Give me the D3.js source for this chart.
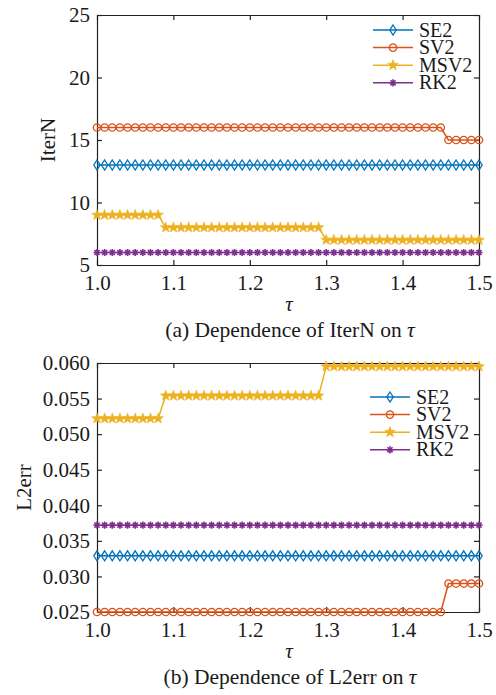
<!DOCTYPE html>
<html lang="en">
<head>
<meta charset="utf-8">
<title>IterN and L2err vs tau</title>
<script src="https://d3js.org/d3.v7.min.js"></script>
<style>
    body { margin: 0; background: #fff; }
    svg { display: block; }
    text { font-family: 'Liberation Serif', 'Times New Roman', serif; fill: #1a1a1a; }
    .axis path, .axis line { stroke: #222; stroke-width: 1.2px; }
</style>
</head>
<body>
<svg id="chart" width="496" height="695"></svg>
<script>
// tau values (x axis, step 0.01)
const tau = [
    1.00, 1.01, 1.02, 1.03, 1.04, 1.05, 1.06, 1.07, 1.08, 1.09,
    1.10, 1.11, 1.12, 1.13, 1.14, 1.15, 1.16, 1.17, 1.18, 1.19,
    1.20, 1.21, 1.22, 1.23, 1.24, 1.25, 1.26, 1.27, 1.28, 1.29,
    1.30, 1.31, 1.32, 1.33, 1.34, 1.35, 1.36, 1.37, 1.38, 1.39,
    1.40, 1.41, 1.42, 1.43, 1.44, 1.45, 1.46, 1.47, 1.48, 1.49,
    1.50
];

const methods = ['SE2', 'SV2', 'MSV2', 'RK2'];

// (a) iteration counts
const iterSE2 = [
    13, 13, 13, 13, 13, 13, 13, 13, 13, 13,
    13, 13, 13, 13, 13, 13, 13, 13, 13, 13,
    13, 13, 13, 13, 13, 13, 13, 13, 13, 13,
    13, 13, 13, 13, 13, 13, 13, 13, 13, 13,
    13, 13, 13, 13, 13, 13, 13, 13, 13, 13,
    13
];
const iterSV2 = [
    16, 16, 16, 16, 16, 16, 16, 16, 16, 16,
    16, 16, 16, 16, 16, 16, 16, 16, 16, 16,
    16, 16, 16, 16, 16, 16, 16, 16, 16, 16,
    16, 16, 16, 16, 16, 16, 16, 16, 16, 16,
    16, 16, 16, 16, 16, 16, 15, 15, 15, 15,
    15
];
const iterMSV2 = [
    9, 9, 9, 9, 9, 9, 9, 9, 9, 8,
    8, 8, 8, 8, 8, 8, 8, 8, 8, 8,
    8, 8, 8, 8, 8, 8, 8, 8, 8, 8,
    7, 7, 7, 7, 7, 7, 7, 7, 7, 7,
    7, 7, 7, 7, 7, 7, 7, 7, 7, 7,
    7
];
const iterRK2 = [
    6, 6, 6, 6, 6, 6, 6, 6, 6, 6,
    6, 6, 6, 6, 6, 6, 6, 6, 6, 6,
    6, 6, 6, 6, 6, 6, 6, 6, 6, 6,
    6, 6, 6, 6, 6, 6, 6, 6, 6, 6,
    6, 6, 6, 6, 6, 6, 6, 6, 6, 6,
    6
];

// (b) L2 errors
const errSE2 = [
    0.0329, 0.0329, 0.0329, 0.0329, 0.0329, 0.0329, 0.0329, 0.0329, 0.0329, 0.0329,
    0.0329, 0.0329, 0.0329, 0.0329, 0.0329, 0.0329, 0.0329, 0.0329, 0.0329, 0.0329,
    0.0329, 0.0329, 0.0329, 0.0329, 0.0329, 0.0329, 0.0329, 0.0329, 0.0329, 0.0329,
    0.0329, 0.0329, 0.0329, 0.0329, 0.0329, 0.0329, 0.0329, 0.0329, 0.0329, 0.0329,
    0.0329, 0.0329, 0.0329, 0.0329, 0.0329, 0.0329, 0.0329, 0.0329, 0.0329, 0.0329,
    0.0329
];
const errSV2 = [
    0.0250, 0.0250, 0.0250, 0.0250, 0.0250, 0.0250, 0.0250, 0.0250, 0.0250, 0.0250,
    0.0250, 0.0250, 0.0250, 0.0250, 0.0250, 0.0250, 0.0250, 0.0250, 0.0250, 0.0250,
    0.0250, 0.0250, 0.0250, 0.0250, 0.0250, 0.0250, 0.0250, 0.0250, 0.0250, 0.0250,
    0.0250, 0.0250, 0.0250, 0.0250, 0.0250, 0.0250, 0.0250, 0.0250, 0.0250, 0.0250,
    0.0250, 0.0250, 0.0250, 0.0250, 0.0250, 0.0250, 0.0290, 0.0290, 0.0290, 0.0290,
    0.0290
];
const errMSV2 = [
    0.0522, 0.0522, 0.0522, 0.0522, 0.0522, 0.0522, 0.0522, 0.0522, 0.0522, 0.0554,
    0.0554, 0.0554, 0.0554, 0.0554, 0.0554, 0.0554, 0.0554, 0.0554, 0.0554, 0.0554,
    0.0554, 0.0554, 0.0554, 0.0554, 0.0554, 0.0554, 0.0554, 0.0554, 0.0554, 0.0554,
    0.0595, 0.0595, 0.0595, 0.0595, 0.0595, 0.0595, 0.0595, 0.0595, 0.0595, 0.0595,
    0.0595, 0.0595, 0.0595, 0.0595, 0.0595, 0.0595, 0.0595, 0.0595, 0.0595, 0.0595,
    0.0595
];
const errRK2 = [
    0.0372, 0.0372, 0.0372, 0.0372, 0.0372, 0.0372, 0.0372, 0.0372, 0.0372, 0.0372,
    0.0372, 0.0372, 0.0372, 0.0372, 0.0372, 0.0372, 0.0372, 0.0372, 0.0372, 0.0372,
    0.0372, 0.0372, 0.0372, 0.0372, 0.0372, 0.0372, 0.0372, 0.0372, 0.0372, 0.0372,
    0.0372, 0.0372, 0.0372, 0.0372, 0.0372, 0.0372, 0.0372, 0.0372, 0.0372, 0.0372,
    0.0372, 0.0372, 0.0372, 0.0372, 0.0372, 0.0372, 0.0372, 0.0372, 0.0372, 0.0372,
    0.0372
];

const xTicks = [1.0, 1.1, 1.2, 1.3, 1.4, 1.5];
const iterTicks = [5, 10, 15, 20, 25];
const errTicks = [0.025, 0.030, 0.035, 0.040, 0.045, 0.050, 0.055, 0.060];

// MATLAB default line colors
const colors = { SE2: '#0072bd', SV2: '#d95319', MSV2: '#edb120', RK2: '#7e2f8e' };

const FONT = "'Liberation Serif', 'Times New Roman', serif";
const svg = d3.select('#chart');

// marker paths
function diamondPath() { return 'M0,-5L3.2,0L0,5L-3.2,0Z'; }
function starPath(R, r) {
    let p = '';
    for (let i = 0; i < 10; i++) {
        const rad = i % 2 ? r : R;
        const a = -Math.PI / 2 + i * Math.PI / 5;
        p += (i ? 'L' : 'M') + (rad * Math.cos(a)).toFixed(2) + ',' + (rad * Math.sin(a)).toFixed(2);
    }
    return p + 'Z';
}
function asteriskPath(r) {
    const d = r * Math.SQRT1_2;
    return `M${-r},0L${r},0M0,${-r}L0,${r}M${-d},${-d}L${d},${d}M${-d},${d}L${d},${-d}`;
}

function addMarker(g, name) {
    const c = colors[name];
    if (name === 'SE2') {
        g.append('path').attr('d', diamondPath()).attr('fill', 'none').attr('stroke', c).attr('stroke-width', 1.3);
    } else if (name === 'SV2') {
        g.append('circle').attr('r', 3.7).attr('fill', 'none').attr('stroke', c).attr('stroke-width', 1.3);
    } else if (name === 'MSV2') {
        g.append('path').attr('d', starPath(5.6, 2.3)).attr('fill', c).attr('stroke', c).attr('stroke-width', 0.6);
    } else {
        g.append('path').attr('d', asteriskPath(3.6)).attr('fill', 'none').attr('stroke', c).attr('stroke-width', 1.6);
    }
}

function styleAxis(sel) {
    sel.attr('font-family', FONT).attr('font-size', 21);
    sel.selectAll('text').style('font-family', FONT).style('font-size', '21px').attr('fill', '#1a1a1a');
}

function drawPanel(opt) {
    const x = d3.scaleLinear().domain([1.0, 1.5]).range([97, 479]);
    const y = d3.scaleLinear().domain(opt.domain).range([opt.bottom, opt.top]);
    const g = svg.append('g');

    // box with inward ticks
    g.append('g').attr('class', 'axis').attr('transform', `translate(0,${opt.bottom})`)
        .call(d3.axisBottom(x).tickValues(xTicks).tickFormat(d3.format('.1f'))
            .tickSizeInner(-5).tickSizeOuter(0).tickPadding(10))
        .call(styleAxis);
    g.append('g').attr('class', 'axis').attr('transform', `translate(0,${opt.top})`)
        .call(d3.axisTop(x).tickValues(xTicks).tickFormat('').tickSizeInner(-5).tickSizeOuter(0));
    g.append('g').attr('class', 'axis').attr('transform', 'translate(97,0)')
        .call(d3.axisLeft(y).tickValues(opt.ticks).tickFormat(opt.fmt)
            .tickSizeInner(-5).tickSizeOuter(0).tickPadding(7))
        .call(styleAxis);
    g.append('g').attr('class', 'axis').attr('transform', 'translate(479,0)')
        .call(d3.axisRight(y).tickValues(opt.ticks).tickFormat('').tickSizeInner(-5).tickSizeOuter(0));

    // series
    const line = d3.line().x((d, i) => x(tau[i])).y(d => y(d));
    methods.forEach(name => {
        const vals = opt.series[name];
        g.append('path').datum(vals).attr('d', line)
            .attr('fill', 'none').attr('stroke', colors[name]).attr('stroke-width', 1.5);
        g.selectAll(null).data(vals).join('g')
            .attr('transform', (d, i) => `translate(${x(tau[i])},${y(d)})`)
            .each(function() { addMarker(d3.select(this), name); });
    });

    // legend (tight rows, as in the reference)
    const leg = g.append('g');
    methods.forEach((name, i) => {
        const ly = opt.legendY + i * 17.6;
        leg.append('line').attr('x1', opt.legendX).attr('x2', opt.legendX + 40)
            .attr('y1', ly).attr('y2', ly).attr('stroke', colors[name]).attr('stroke-width', 1.5);
        addMarker(leg.append('g').attr('transform', `translate(${opt.legendX + 20},${ly})`), name);
        leg.append('text').attr('x', opt.legendX + 46).attr('y', ly + 6.5)
            .style('font-size', '20px').text(name);
    });

    // y label
    g.append('text').attr('transform', `translate(${opt.ylabelX},${(opt.top + opt.bottom) / 2}) rotate(-90)`)
        .attr('text-anchor', 'middle').attr('dy', '0.35em')
        .style('font-size', '21px').text(opt.ylabel);

    // x label
    g.append('text').attr('x', 289).attr('y', opt.bottom + 46)
        .attr('text-anchor', 'middle').style('font-size', '21px').style('font-style', 'italic').text('τ');

    // caption
    const cap = g.append('text').attr('x', 290).attr('y', opt.bottom + 72)
        .attr('text-anchor', 'middle').style('font-size', '21.5px');
    cap.append('tspan').text(opt.caption);
    cap.append('tspan').style('font-style', 'italic').text('τ');
}

drawPanel({
    domain: [5, 25], top: 15, bottom: 265, ticks: iterTicks, fmt: d3.format('d'),
    series: { SE2: iterSE2, SV2: iterSV2, MSV2: iterMSV2, RK2: iterRK2 },
    legendX: 373, legendY: 30, ylabel: 'IterN', ylabelX: 48,
    caption: '(a) Dependence of IterN on '
});

drawPanel({
    domain: [0.025, 0.060], top: 363, bottom: 612, ticks: errTicks, fmt: d3.format('.3f'),
    series: { SE2: errSE2, SV2: errSV2, MSV2: errMSV2, RK2: errRK2 },
    legendX: 370, legendY: 397, ylabel: 'L2err', ylabelX: 24,
    caption: '(b) Dependence of L2err on '
});
</script>
</body>
</html>
